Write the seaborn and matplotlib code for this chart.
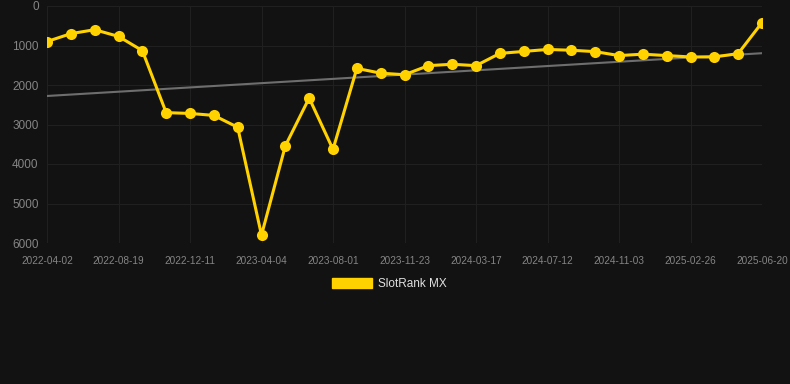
import numpy as np
import pandas as pd
import matplotlib
matplotlib.use("Agg")
import matplotlib.pyplot as plt
from matplotlib.patches import Patch
import seaborn as sns

# ---- data ----
dates = [
    "2022-04-02", "2022-05-18", "2022-07-04", "2022-08-19", "2022-09-26", "2022-11-03",
    "2022-12-11", "2023-01-18", "2023-02-25", "2023-04-04", "2023-05-13", "2023-06-22",
    "2023-08-01", "2023-09-08", "2023-10-16", "2023-11-23", "2023-12-31", "2024-02-08",
    "2024-03-17", "2024-04-25", "2024-06-03", "2024-07-12", "2024-08-19", "2024-09-26",
    "2024-11-03", "2024-12-11", "2025-01-18", "2025-02-26", "2025-04-05", "2025-05-13",
    "2025-06-20",
]
ranks = [
    900, 700, 600, 770, 1130, 2700, 2720, 2770, 3070, 5800, 3540, 2330, 3630,
    1580, 1700, 1740, 1510, 1475, 1510, 1200, 1150, 1100, 1120, 1155, 1255,
    1220, 1255, 1290, 1290, 1205, 420,
]
tick_labels = ["2022-04-02", "2022-08-19", "2022-12-11", "2023-04-04", "2023-08-01",
               "2023-11-23", "2024-03-17", "2024-07-12", "2024-11-03", "2025-02-26",
               "2025-06-20"]
y_ticks = [0, 1000, 2000, 3000, 4000, 5000, 6000]
series_name = "SlotRank MX"

df = pd.DataFrame({"date": dates, "rank": ranks})
df["idx"] = np.arange(len(df))
coef = np.polyfit(df["idx"], df["rank"], 1)
df["trend"] = np.polyval(coef, df["idx"])

BG = "#121212"
GOLD = "#FFD200"

sns.set_style("dark", {"axes.facecolor": BG, "figure.facecolor": BG})
plt.rcParams["font.family"] = ["Liberation Sans", "DejaVu Sans"]

fig = plt.figure(figsize=(7.9, 3.84), dpi=100)
ax = fig.add_axes([47 / 790, 1 - 243 / 384, (762 - 47) / 790, (243 - 6) / 384])
ax.set_facecolor(BG)

sns.lineplot(data=df, x="idx", y="trend", ax=ax, color="#6e6e6e", linewidth=1.5, zorder=2)
sns.lineplot(data=df, x="idx", y="rank", ax=ax, color=GOLD, linewidth=2.2,
             marker="o", markersize=8, markeredgewidth=0, zorder=3)

ax.set_xlim(0, len(df) - 1)
ax.set_ylim(6000, 0)
ax.set_yticks(y_ticks)
ax.set_yticklabels([str(v) for v in y_ticks])
tick_pos = [dates.index(t) for t in tick_labels]
ax.set_xticks(tick_pos)
ax.set_xticklabels(tick_labels)
ax.tick_params(axis="x", colors="#858585", labelsize=7.2, length=0, pad=9)
ax.tick_params(axis="y", colors="#858585", labelsize=8.5, length=0, pad=6)
ax.grid(True, color="#202020", linewidth=0.8)
for s in ax.spines.values():
    s.set_visible(False)
ax.set_xlabel("")
ax.set_ylabel("")

handle = Patch(facecolor=GOLD, edgecolor=GOLD, label=series_name)
leg = fig.legend(handles=[handle], loc="center", bbox_to_anchor=(0.4924, 1 - 284 / 384),
                 frameon=False, fontsize=8.5, handlelength=3.4, handleheight=1.0,
                 handletextpad=0.5)
for t in leg.get_texts():
    t.set_color("#e0e0e0")

fig.savefig("out.png", dpi=100, facecolor=BG)
